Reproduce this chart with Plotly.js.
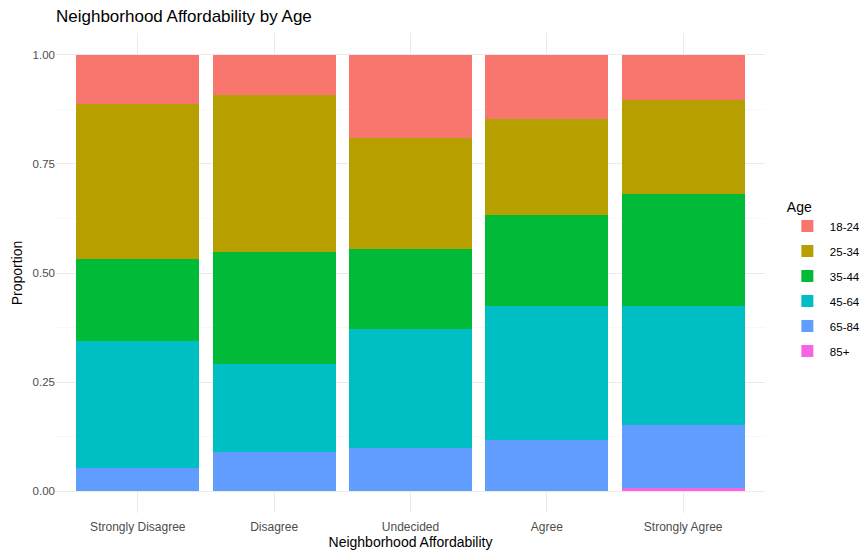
<!DOCTYPE html>
<html>
<head>
<meta charset="utf-8">
<script src="https://cdn.plot.ly/plotly-3.0.1.min.js"></script>
<style>html,body{margin:0;padding:0;background:#fff;}#chart{width:864px;height:558px;}</style>
</head>
<body>
<div id="chart"></div>
<script>
const categories = ["Strongly Disagree", "Disagree", "Undecided", "Agree", "Strongly Agree"];
const ageGroups = ["18-24", "25-34", "35-44", "45-64", "65-84", "85+"];
const colors = ["#F8766D", "#B79F00", "#00BA38", "#00BFC4", "#619CFF", "#F564E3"];
const p18_24 = [0.112, 0.093, 0.191, 0.148, 0.103];
const p25_34 = [0.356, 0.360, 0.253, 0.220, 0.217];
const p35_44 = [0.188, 0.256, 0.185, 0.208, 0.256];
const p45_64 = [0.291, 0.202, 0.273, 0.307, 0.273];
const p65_84 = [0.053, 0.089, 0.098, 0.117, 0.143];
const p85 = [0, 0, 0, 0, 0.008];
const values = [p18_24, p25_34, p35_44, p45_64, p65_84, p85];
const yTicks = [0, 0.25, 0.5, 0.75, 1.0];
const yTickText = ["0.00", "0.25", "0.50", "0.75", "1.00"];

const traces = [];
for (let i = ageGroups.length - 1; i >= 0; i--) {
  traces.push({
    type: "bar",
    name: ageGroups[i],
    legendgroup: "g" + i,
    legendrank: i + 1,
    x: categories,
    y: values[i],
    marker: {color: colors[i], line: {width: 0}},
    width: 0.9,
    hoverinfo: "x+y+name"
  });
}

const layout = {
  width: 864, height: 558,
  barmode: "stack",
  paper_bgcolor: "#fff", plot_bgcolor: "#fff",
  margin: {l: 56, r: 99, t: 33, b: 45, autoexpand: false},
  font: {family: "Liberation Sans, Arial, sans-serif", color: "#4D4D4D", size: 11},
  title: {text: "Neighborhood Affordability by Age", x: 56/864, xanchor: "left", y: 1 - 16/558, yanchor: "middle",
          font: {size: 17, color: "#000"}},
  xaxis: {
    type: "category", range: [-0.6, 4.6], automargin: false,
    showgrid: true, gridcolor: "#EBEBEB", gridwidth: 1,
    zeroline: false, showline: false, ticks: "",
    tickfont: {size: 12, color: "#4D4D4D"},
    ticklabelstandoff: 5,
    title: {text: "Neighborhood Affordability", font: {size: 14, color: "#000"}, standoff: 1}
  },
  yaxis: {
    range: [-0.05, 1.05], tickvals: yTicks, ticktext: yTickText, automargin: false,
    showgrid: true, gridcolor: "#EBEBEB", gridwidth: 1,
    minor: {dtick: 0.25, tick0: 0.125, showgrid: true, gridcolor: "#F3F3F3", gridwidth: 0.6},
    zeroline: false, showline: false, ticks: "",
    tickfont: {size: 11.5, color: "#4D4D4D"},
    title: {text: "Proportion", font: {size: 14, color: "#000"}, standoff: 6}
  },
  legend: {
    x: 1.028, xanchor: "left", y: 0.666, yanchor: "top",
    traceorder: "grouped",
    title: {text: "Age", font: {size: 14, color: "#000"}},
    font: {size: 11.5, color: "#000"},
    itemwidth: 35, tracegroupgap: 6
  },
  showlegend: true
};

Plotly.newPlot("chart", traces, layout, {displayModeBar: false, staticPlot: true});
</script>
</body>
</html>
